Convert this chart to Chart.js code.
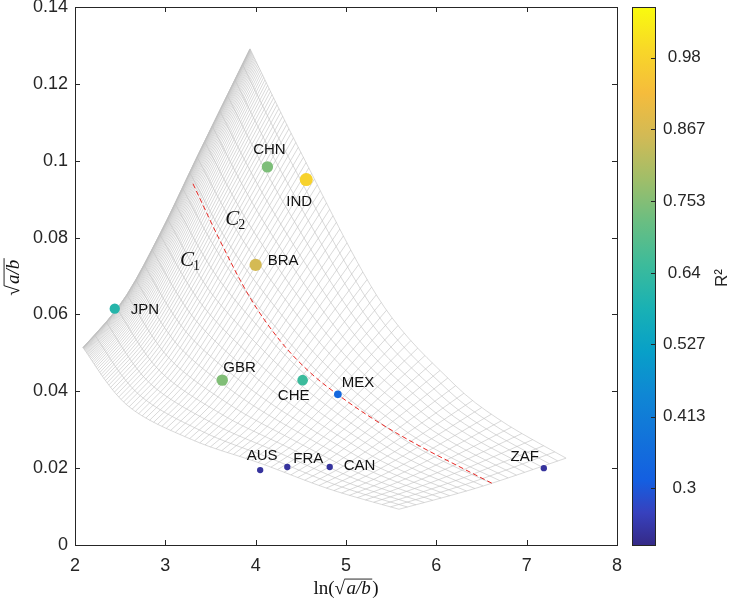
<!DOCTYPE html>
<html>
<head>
<meta charset="utf-8">
<script src="https://cdn.jsdelivr.net/npm/chart.js@4.4.1/dist/chart.umd.min.js"></script>
<style>
  html, body { margin: 0; padding: 0; background: #fff; }
</style>
</head>
<body>
<canvas id="myChart" width="733" height="604"></canvas>
<script>
// country fits
const countries = ['JPN', 'CHN', 'IND', 'BRA', 'GBR', 'CHE', 'MEX', 'AUS', 'FRA', 'CAN', 'ZAF'];
const lnRatio   = [2.44, 4.13, 4.56, 4.00, 3.63, 4.52, 4.91, 4.05, 4.35, 4.82, 7.19];
const sqrtRatio = [0.0615, 0.0984, 0.0951, 0.0729, 0.0429, 0.0429, 0.0392, 0.0195, 0.0203, 0.0203, 0.0200];
const rSquared  = [0.61, 0.745, 0.98, 0.86, 0.75, 0.65, 0.34, 0.23, 0.23, 0.23, 0.23];

// red dashed boundary between C1 and C2
const critX = [3.306, 3.605, 3.937, 4.269, 4.602, 4.934, 5.376, 5.819, 6.262, 6.638];
const critY = [0.0940, 0.0792, 0.0644, 0.0532, 0.0449, 0.0387, 0.0317, 0.0257, 0.0203, 0.0158];

// outline of the parameter mesh (corners: left, top, right, bottom)
const edgeLeftX   = [2.089, 2.531, 2.941, 3.384, 3.937];
const edgeLeftY   = [0.0514, 0.0636, 0.0810, 0.1026, 0.1291];
const edgeTopX    = [3.937, 4.491, 5.376, 6.151, 6.705, 7.436];
const edgeTopY    = [0.1291, 0.1026, 0.0636, 0.0429, 0.0325, 0.0226];
const edgeBottomX = [2.089, 2.576, 3.306, 4.048, 4.823, 5.587];
const edgeBottomY = [0.0514, 0.0364, 0.0273, 0.0213, 0.0145, 0.0093];
const edgeRightX  = [5.587, 6.484, 7.436];
const edgeRightY  = [0.0093, 0.0151, 0.0226];

// colour bar
const cbMin = 0.21, cbMax = 1.06;
const cbTicks = [0.3, 0.413, 0.527, 0.64, 0.753, 0.867, 0.98];

const parulaStops = [
  [0.00, [53, 42, 135]],
  [0.06, [55, 65, 190]],
  [0.12, [20, 95, 225]],
  [0.20, [18, 115, 218]],
  [0.28, [15, 135, 212]],
  [0.36, [8, 160, 200]],
  [0.44, [25, 177, 180]],
  [0.52, [60, 187, 155]],
  [0.60, [105, 190, 130]],
  [0.68, [160, 190, 105]],
  [0.76, [210, 186, 85]],
  [0.84, [245, 188, 60]],
  [0.92, [248, 215, 40]],
  [1.00, [249, 251, 14]]
];

function parula(v) {
  let t = (v - cbMin) / (cbMax - cbMin);
  t = Math.max(0, Math.min(1, t));
  for (let i = 1; i < parulaStops.length; i++) {
    const [t1, c1] = parulaStops[i];
    const [t0, c0] = parulaStops[i - 1];
    if (t <= t1) {
      const f = (t - t0) / (t1 - t0);
      const c = c0.map((a, k) => Math.round(a + f * (c1[k] - a)));
      return `rgb(${c[0]},${c[1]},${c[2]})`;
    }
  }
  return 'rgb(249,251,14)';
}

// smooth an outline and return s -> point (s in 0..1 along its length)
function edgeCurve(xs, ys) {
  const n = xs.length;
  const P = i => { const j = Math.max(0, Math.min(n - 1, i)); return [xs[j] / 6, ys[j] / 0.14]; };
  const pts = [];
  for (let i = 0; i < n - 1; i++) {
    const p0 = P(i - 1), p1 = P(i), p2 = P(i + 1), p3 = P(i + 2);
    for (let k = 0; k < 16; k++) {
      const t = k / 16, t2 = t * t, t3 = t2 * t;
      pts.push([0, 1].map(d => 0.5 * (2 * p1[d] + (-p0[d] + p2[d]) * t +
        (2 * p0[d] - 5 * p1[d] + 4 * p2[d] - p3[d]) * t2 +
        (-p0[d] + 3 * p1[d] - 3 * p2[d] + p3[d]) * t3)));
    }
  }
  pts.push(P(n - 1));
  const cum = [0];
  for (let i = 1; i < pts.length; i++) {
    cum.push(cum[i - 1] + Math.hypot(pts[i][0] - pts[i - 1][0], pts[i][1] - pts[i - 1][1]));
  }
  const total = cum[cum.length - 1];
  return s => {
    const d = s * total;
    let i = 1;
    while (i < cum.length - 1 && cum[i] < d) i++;
    const f = (d - cum[i - 1]) / ((cum[i] - cum[i - 1]) || 1);
    return [(pts[i - 1][0] + f * (pts[i][0] - pts[i - 1][0])) * 6,
            (pts[i - 1][1] + f * (pts[i][1] - pts[i - 1][1])) * 0.14];
  };
}

const cLeft = edgeCurve(edgeLeftX, edgeLeftY);
const cTop = edgeCurve(edgeTopX, edgeTopY);
const cBottom = edgeCurve(edgeBottomX, edgeBottomY);
const cRight = edgeCurve(edgeRightX, edgeRightY);
const cornerL = cLeft(0), cornerT = cLeft(1), cornerB = cBottom(1), cornerR = cTop(1);

function patch(u, v) {
  const a = cLeft(v), b = cRight(v), c = cBottom(u), d = cTop(u);
  return [0, 1].map(k =>
    (1 - u) * a[k] + u * b[k] + (1 - v) * c[k] + v * d[k] -
    ((1 - u) * (1 - v) * cornerL[k] + u * (1 - v) * cornerB[k] +
     (1 - u) * v * cornerT[k] + u * v * cornerR[k]));
}

const meshStyle = { type: 'line', showLine: true, borderColor: 'rgb(192,192,192)', borderWidth: 0.6,
  pointRadius: 0, fill: false, order: 5 };
const meshSets = [];
const NA = 20, NB = 90, PB = 2.2;
for (let j = 0; j <= NA; j++) {
  const v = j / NA, line = [];
  for (let i = 0; i <= 40; i++) { const p = patch(i / 40, v); line.push({ x: p[0], y: p[1] }); }
  meshSets.push(Object.assign({ data: line }, meshStyle));
}
for (let k = 0; k <= NB; k++) {
  const u = Math.pow(k / NB, PB), line = [];
  for (let i = 0; i <= 20; i++) { const p = patch(u, i / 20); line.push({ x: p[0], y: p[1] }); }
  meshSets.push(Object.assign({ data: line }, meshStyle));
}

const labelOffsets = {
  JPN: [16, 1, 'left'], CHN: [2, -17, 'center'], IND: [-7, 22, 'center'], BRA: [12, -4, 'left'],
  GBR: [1, -12, 'left'], CHE: [-9, 16, 'center'], MEX: [4, -12, 'left'], AUS: [2, -14, 'center'],
  FRA: [6, -8, 'left'], CAN: [14, -1, 'left'], ZAF: [-5, -11, 'right']
};
const regionLabels = [{ x: 3.24, y: 0.0745, sub: '1' }, { x: 3.74, y: 0.0850, sub: '2' }];

const ink = '#262626';
const sans = '"Liberation Sans", Arial, Helvetica, sans-serif';
const serif = '"Liberation Serif", "DejaVu Serif", "Times New Roman", serif';

function drawRadical(ctx, pre, post, cx, cy, size) {
  const up = size + 'px ' + serif, it = 'italic ' + up;
  ctx.font = up;
  const wPre = ctx.measureText(pre).width, wRad = ctx.measureText('\u221A').width, wPost = ctx.measureText(post).width;
  ctx.font = it;
  const wIn = ctx.measureText('a/b').width + 3;
  let x = cx - (wPre + wRad + wIn + wPost) / 2;
  const base = cy + size * 0.33;
  ctx.textAlign = 'left'; ctx.textBaseline = 'alphabetic';
  ctx.font = up; ctx.fillText(pre, x, base); x += wPre;
  ctx.fillText('\u221A', x, base); x += wRad;
  ctx.font = it; ctx.fillText('a/b', x + 1.5, base);
  ctx.beginPath();
  ctx.moveTo(x - 0.5, base - size * 0.80); ctx.lineTo(x + wIn, base - size * 0.80);
  ctx.lineWidth = 0.9; ctx.stroke();
  x += wIn;
  ctx.font = up; ctx.fillText(post, x, base);
}

const decor = {
  id: 'decor',
  afterDraw(chart) {
    const { ctx, chartArea: a, scales } = chart;
    const sx = scales.x, sy = scales.y, cb = scales.cb;
    ctx.save();
    ctx.strokeStyle = ink; ctx.fillStyle = ink;
    // axes box with inward ticks
    ctx.lineWidth = 1;
    ctx.strokeRect(Math.round(a.left) + 0.5, Math.round(a.top) + 0.5, Math.round(a.width), Math.round(a.height));
    ctx.beginPath();
    for (let v = 3; v <= 7; v++) {
      const px = Math.round(sx.getPixelForValue(v)) + 0.5;
      ctx.moveTo(px, a.bottom); ctx.lineTo(px, a.bottom - 5);
      ctx.moveTo(px, a.top); ctx.lineTo(px, a.top + 5);
    }
    for (let v = 0.02; v < 0.139; v += 0.02) {
      const py = Math.round(sy.getPixelForValue(v)) + 0.5;
      ctx.moveTo(a.left, py); ctx.lineTo(a.left + 5, py);
      ctx.moveTo(a.right, py); ctx.lineTo(a.right - 5, py);
    }
    ctx.stroke();

    // colour bar
    const bx = a.right + 15, bw = 23;
    const top = cb.getPixelForValue(cbMax), bot = cb.getPixelForValue(cbMin);
    const g = ctx.createLinearGradient(0, bot, 0, top);
    parulaStops.forEach(([t, c]) => g.addColorStop(t, `rgb(${c[0]},${c[1]},${c[2]})`));
    ctx.fillStyle = g;
    ctx.fillRect(bx, top, bw, bot - top);
    ctx.strokeStyle = ink;
    ctx.strokeRect(Math.round(bx) + 0.5, Math.round(top) + 0.5, bw, Math.round(bot - top));
    ctx.beginPath();
    cbTicks.forEach(v => {
      const py = Math.round(cb.getPixelForValue(v)) + 0.5;
      ctx.moveTo(bx + bw, py); ctx.lineTo(bx + bw - 4, py);
    });
    ctx.stroke();
    ctx.fillStyle = ink;
    ctx.save();
    ctx.translate(722, (top + bot) / 2 + 2);
    ctx.rotate(-Math.PI / 2);
    ctx.font = '17px ' + sans; ctx.textAlign = 'center'; ctx.textBaseline = 'middle';
    ctx.fillText('R\u00B2', 0, 0);
    ctx.restore();

    // country labels
    const meta = chart.getDatasetMeta(0);
    ctx.font = '15px ' + sans; ctx.textBaseline = 'middle'; ctx.fillStyle = '#111';
    countries.forEach((c, i) => {
      const p = meta.data[i], o = labelOffsets[c];
      ctx.textAlign = o[2];
      ctx.fillText(c, p.x + o[0], p.y + o[1]);
    });

    // region labels C1 / C2
    regionLabels.forEach(r => {
      const px = sx.getPixelForValue(r.x), py = sy.getPixelForValue(r.y);
      ctx.font = 'italic 21px ' + serif; ctx.textAlign = 'center'; ctx.textBaseline = 'alphabetic';
      ctx.fillText('C', px, py + 7);
      ctx.font = '14px ' + serif; ctx.textAlign = 'left';
      ctx.fillText(r.sub, px + 6, py + 11);
    });

    // axis titles
    ctx.fillStyle = '#111'; ctx.strokeStyle = '#111';
    drawRadical(ctx, 'ln(', ')', (a.left + a.right) / 2, 588, 19);
    ctx.save();
    ctx.translate(13, (a.top + a.bottom) / 2 + 1);
    ctx.rotate(-Math.PI / 2);
    drawRadical(ctx, '', '', 0, 0, 19);
    ctx.restore();
    ctx.restore();
  }
};

const tickFont = { family: sans, size: 18 };

new Chart(document.getElementById('myChart'), {
  type: 'scatter',
  data: {
    datasets: [
      {
        data: lnRatio.map((x, i) => ({ x, y: sqrtRatio[i] })),
        pointBackgroundColor: rSquared.map(parula),
        pointBorderWidth: 0,
        pointRadius: rSquared.map(v => 6.6 * Math.sqrt(v)),
        order: 0
      },
      {
        type: 'line',
        data: critX.map((x, i) => ({ x, y: critY[i] })),
        borderColor: 'rgb(232,40,36)',
        borderWidth: 1,
        borderDash: [5, 3],
        pointRadius: 0,
        cubicInterpolationMode: 'monotone',
        fill: false,
        order: 1
      },
      ...meshSets
    ]
  },
  options: {
    responsive: false,
    devicePixelRatio: 1,
    animation: false,
    layout: { padding: { top: 7, left: 0, right: 0, bottom: 0 } },
    plugins: { legend: { display: false }, tooltip: { enabled: false } },
    scales: {
      x: {
        type: 'linear', min: 2, max: 8,
        ticks: { stepSize: 1, font: tickFont, color: ink, padding: 10, maxRotation: 0 },
        grid: { display: false, drawTicks: false },
        border: { display: false },
        afterFit: s => { s.height = 59; s.paddingLeft = 0; s.paddingRight = 0; }
      },
      y: {
        type: 'linear', min: 0, max: 0.14,
        ticks: { stepSize: 0.02, font: tickFont, color: ink, padding: 7,
          callback: v => String(+v.toFixed(2)) },
        grid: { display: false, drawTicks: false },
        border: { display: false },
        afterFit: s => { s.width = 75; s.paddingTop = 0; s.paddingBottom = 0; }
      },
      cb: {
        type: 'linear', position: 'right', min: cbMin, max: cbMax,
        afterBuildTicks: s => { s.ticks = cbTicks.map(v => ({ value: v })); },
        ticks: { font: { family: sans, size: 17 }, color: ink, padding: 0, crossAlign: 'center',
          callback: v => String(v) },
        grid: { display: false, drawTicks: true, tickLength: 46 },
        border: { display: false },
        afterFit: s => { s.width = 116; s.paddingTop = 0; s.paddingBottom = 0; }
      }
    }
  },
  plugins: [decor]
});
</script>
</body>
</html>
